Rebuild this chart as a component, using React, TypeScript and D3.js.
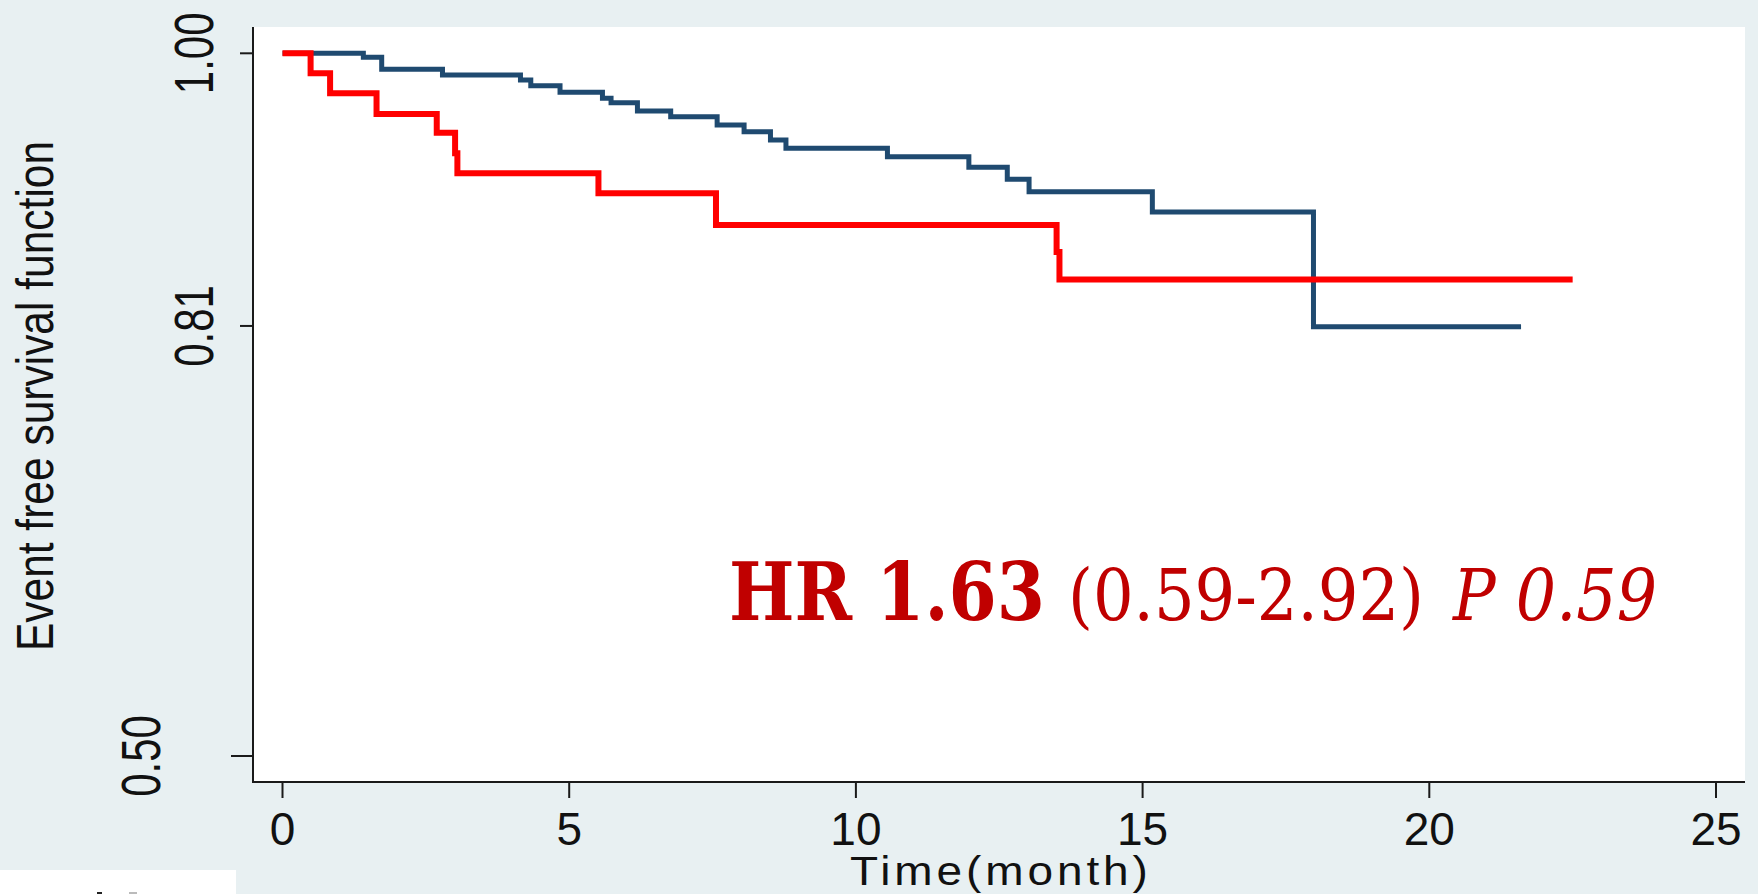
import React, { useEffect, useRef } from "react";
import * as d3 from "d3";

// axis ticks
const xTicks = [0, 5, 10, 15, 20, 25];
const yTicks = [0.5, 0.806, 1.0];

// Kaplan-Meier steps, group 1 (navy)
const blueTimes = [0, 1.41, 1.73, 2.79, 4.15, 4.33, 4.84, 5.58, 5.73, 6.19, 6.77, 7.58, 8.05, 8.51, 8.78, 10.55, 11.97, 12.64, 13.02, 15.17, 17.98, 21.6];
const blueSurv = [1, 0.9972, 0.9886, 0.9846, 0.981, 0.9769, 0.9722, 0.968, 0.9648, 0.9589, 0.9549, 0.949, 0.9442, 0.9383, 0.9324, 0.9264, 0.9189, 0.9103, 0.9015, 0.8871, 0.8055, 0.8055];

// Kaplan-Meier steps, group 2 (red)
const redTimes = [0, 0.49, 0.83, 1.64, 2.69, 3.01, 3.05, 5.51, 7.56, 13.5, 13.55, 22.5];
const redSurv = [1, 0.9858, 0.9715, 0.9568, 0.9435, 0.9288, 0.9146, 0.9004, 0.8778, 0.8586, 0.839, 0.839];

const annotation = ["HR 1.63", "(0.59-2.92)", "P 0.59"];

const W = 1758;
const H = 894;

export default function App() {
  const ref = useRef<SVGSVGElement>(null);

  useEffect(() => {
    const svg = d3.select(ref.current);
    svg.selectAll("*").remove();

    const left = 253, right = 1745, top = 27, bottom = 782;

    const x = d3.scaleLinear().domain([0, 25]).range([282.5, 1716]);
    const y = d3.scaleLinear().domain([0.5, 1]).range([756, 53.3]);

    svg.append("rect").attr("width", W).attr("height", H).attr("fill", "#e8f0f2");
    svg.append("rect")
      .attr("x", left).attr("y", top)
      .attr("width", right - left).attr("height", bottom - top)
      .attr("fill", "#ffffff");

    // white strip bottom-left
    svg.append("rect").attr("x", 0).attr("y", 870).attr("width", 236).attr("height", 24).attr("fill", "#ffffff");
    svg.append("rect").attr("x", 97).attr("y", 892).attr("width", 5).attr("height", 2).attr("fill", "#222");
    svg.append("rect").attr("x", 129).attr("y", 892).attr("width", 8).attr("height", 2).attr("fill", "#bbb");

    // Y axis
    const yAxis = svg.append("g");
    yAxis.append("line")
      .attr("x1", left).attr("x2", left).attr("y1", top).attr("y2", bottom + 1)
      .attr("stroke", "#1a1a1a").attr("stroke-width", 2);
    yAxis.selectAll(".ytick")
      .data(yTicks)
      .join("line")
      .attr("class", "ytick")
      .attr("x1", (d) => (d === yTicks[0] ? left - 22 : left - 13))
      .attr("x2", left)
      .attr("y1", (d) => y(d)).attr("y2", (d) => y(d))
      .attr("stroke", "#1a1a1a").attr("stroke-width", 2);
    yAxis.selectAll(".ylab")
      .data(yTicks)
      .join("text")
      .attr("class", "ylab")
      .attr("transform", (d) => `translate(${d === yTicks[0] ? 160 : 213},${y(d)}) scale(1.3,1) rotate(-90)`)
      .attr("text-anchor", "middle")
      .attr("font-family", "Liberation Sans, Arial, sans-serif")
      .attr("font-size", 42)
      .attr("fill", "#111")
      .text((d) => d3.format(".2f")(d));

    yAxis.append("text")
      .attr("transform", `translate(53,396) scale(1.2,1) rotate(-90)`)
      .attr("text-anchor", "middle")
      .attr("font-family", "Liberation Sans, Arial, sans-serif")
      .attr("font-size", 42.5)
      .attr("fill", "#111")
      .text("Event free survival function");

    // X axis
    const xAxis = svg.append("g");
    xAxis.append("line")
      .attr("x1", left).attr("x2", right).attr("y1", bottom).attr("y2", bottom)
      .attr("stroke", "#1a1a1a").attr("stroke-width", 2);
    xAxis.selectAll(".xtick")
      .data(xTicks)
      .join("line")
      .attr("class", "xtick")
      .attr("x1", (d) => x(d)).attr("x2", (d) => x(d))
      .attr("y1", bottom).attr("y2", bottom + 16)
      .attr("stroke", "#1a1a1a").attr("stroke-width", 2);
    xAxis.selectAll(".xlab")
      .data(xTicks)
      .join("text")
      .attr("class", "xlab")
      .attr("x", (d) => x(d)).attr("y", 845)
      .attr("text-anchor", "middle")
      .attr("font-family", "Liberation Sans, Arial, sans-serif")
      .attr("font-size", 46)
      .attr("fill", "#111")
      .text((d) => d);
    xAxis.append("text")
      .attr("transform", "translate(850,885) scale(1.15,1)")
      .attr("textLength", 259)
      .attr("lengthAdjust", "spacing")
      .attr("font-family", "Liberation Sans, Arial, sans-serif")
      .attr("font-size", 40)
      .attr("fill", "#111")
      .text("Time(month)");

    // survival curves
    const line = d3.line<[number, number]>()
      .x((d) => x(d[0]))
      .y((d) => y(d[1]))
      .curve(d3.curveStepAfter);

    const blue = blueTimes.map((t, i) => [t, blueSurv[i]] as [number, number]);
    const red = redTimes.map((t, i) => [t, redSurv[i]] as [number, number]);

    svg.append("path")
      .attr("d", line(blue))
      .attr("fill", "none")
      .attr("stroke", "#1f4a70")
      .attr("stroke-width", 5);
    svg.append("path")
      .attr("d", line(red))
      .attr("fill", "none")
      .attr("stroke", "#ff0000")
      .attr("stroke-width", 6);

    // HR annotation
    const ann = svg.append("g")
      .attr("font-family", "DejaVu Serif, Liberation Serif, serif")
      .attr("fill", "#c00000");
    ann.append("text")
      .attr("x", 729).attr("y", 620)
      .attr("font-size", 80).attr("font-weight", "bold")
      .attr("textLength", 316).attr("lengthAdjust", "spacingAndGlyphs")
      .text(annotation[0]);
    ann.append("text")
      .attr("x", 1068).attr("y", 620)
      .attr("font-size", 71)
      .attr("textLength", 356).attr("lengthAdjust", "spacingAndGlyphs")
      .text(annotation[1]);
    ann.append("text")
      .attr("x", 1453).attr("y", 620)
      .attr("font-size", 71).attr("font-style", "italic")
      .attr("textLength", 204).attr("lengthAdjust", "spacingAndGlyphs")
      .text(annotation[2]);
  }, []);

  return (
    <svg
      ref={ref}
      width={W}
      height={H}
      style={{ position: "absolute", left: 0, top: 0, display: "block" }}
    />
  );
}
